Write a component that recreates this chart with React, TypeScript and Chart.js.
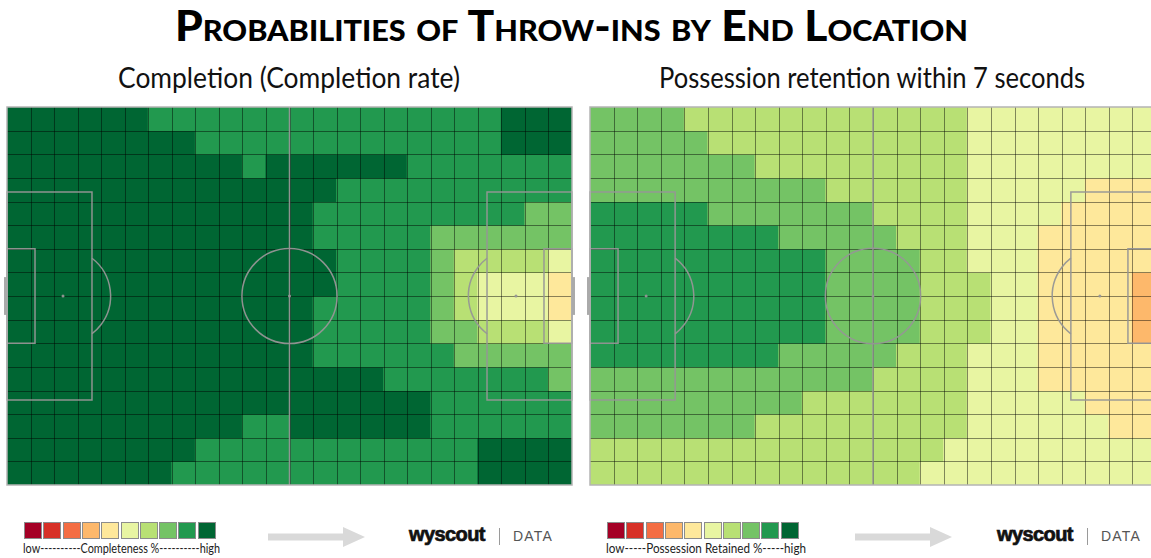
import React, { useEffect, useLayoutEffect, useRef } from "react";
import { Chart, registerables } from "chart.js";

Chart.register(...registerables);

// ---------- data ----------
const TITLE = "Probabilities of Throw-ins by End Location";
const LEFT_SUBTITLE = "Completion (Completion rate)";
const RIGHT_SUBTITLE = "Possession retention within 7 seconds";
const LEFT_LEGEND_LABEL = "low----------Completeness %----------high";
const RIGHT_LEGEND_LABEL = "low-----Possession Retained %-----high";

const COLUMN_LABELS = [
  "1", "2", "3", "4", "5", "6", "7", "8", "9", "10", "11", "12",
  "13", "14", "15", "16", "17", "18", "19", "20", "21", "22", "23", "24",
];

// colour class per cell (1 = low ... 10 = high), 16 rows x 24 columns
const COMPLETION_ROWS: number[][] = [
  [10, 10, 10, 10, 10, 10, 9, 9, 9, 9, 9, 9, 9, 9, 9, 9, 9, 9, 9, 9, 9, 10, 10, 10],
  [10, 10, 10, 10, 10, 10, 10, 10, 9, 9, 9, 9, 9, 9, 9, 9, 9, 9, 9, 9, 9, 10, 10, 10],
  [10, 10, 10, 10, 10, 10, 10, 10, 10, 10, 9, 10, 10, 10, 10, 10, 10, 9, 9, 9, 9, 9, 9, 9],
  [10, 10, 10, 10, 10, 10, 10, 10, 10, 10, 10, 10, 10, 10, 9, 9, 9, 9, 9, 9, 9, 9, 9, 9],
  [10, 10, 10, 10, 10, 10, 10, 10, 10, 10, 10, 10, 10, 9, 9, 9, 9, 9, 9, 9, 9, 9, 8, 8],
  [10, 10, 10, 10, 10, 10, 10, 10, 10, 10, 10, 10, 10, 9, 9, 9, 9, 9, 8, 8, 8, 8, 8, 8],
  [10, 10, 10, 10, 10, 10, 10, 10, 10, 10, 10, 10, 10, 10, 9, 9, 9, 9, 8, 7, 7, 7, 7, 6],
  [10, 10, 10, 10, 10, 10, 10, 10, 10, 10, 10, 10, 10, 10, 9, 9, 9, 9, 8, 7, 6, 6, 6, 5],
  [10, 10, 10, 10, 10, 10, 10, 10, 10, 10, 10, 10, 10, 9, 9, 9, 9, 9, 8, 7, 6, 6, 6, 5],
  [10, 10, 10, 10, 10, 10, 10, 10, 10, 10, 10, 10, 10, 9, 9, 9, 9, 9, 8, 8, 7, 7, 7, 6],
  [10, 10, 10, 10, 10, 10, 10, 10, 10, 10, 10, 10, 10, 9, 9, 9, 9, 9, 9, 8, 8, 8, 8, 8],
  [10, 10, 10, 10, 10, 10, 10, 10, 10, 10, 10, 10, 10, 10, 10, 10, 9, 9, 9, 9, 9, 9, 9, 8],
  [10, 10, 10, 10, 10, 10, 10, 10, 10, 10, 10, 10, 10, 10, 10, 10, 10, 10, 9, 9, 9, 9, 9, 9],
  [10, 10, 10, 10, 10, 10, 10, 10, 10, 10, 9, 9, 10, 10, 10, 10, 10, 10, 9, 9, 9, 9, 9, 9],
  [10, 10, 10, 10, 10, 10, 10, 10, 9, 9, 9, 9, 9, 9, 9, 9, 9, 9, 9, 9, 10, 10, 10, 10],
  [10, 10, 10, 10, 10, 10, 10, 9, 9, 9, 9, 9, 9, 9, 9, 9, 9, 9, 9, 9, 10, 10, 10, 10],
];

const RETENTION_ROWS: number[][] = [
  [8, 8, 8, 8, 7, 7, 7, 7, 7, 7, 7, 7, 7, 7, 7, 7, 6, 6, 6, 6, 6, 6, 6, 6],
  [8, 8, 8, 8, 8, 7, 7, 7, 7, 7, 7, 7, 7, 7, 7, 7, 6, 6, 6, 6, 6, 6, 6, 6],
  [8, 8, 8, 8, 8, 8, 8, 7, 7, 7, 7, 7, 7, 7, 7, 7, 6, 6, 6, 6, 6, 6, 6, 6],
  [8, 8, 8, 8, 8, 8, 8, 8, 8, 8, 7, 7, 7, 7, 7, 7, 6, 6, 6, 6, 6, 5, 5, 5],
  [9, 9, 9, 9, 9, 8, 8, 8, 8, 8, 8, 8, 7, 7, 7, 7, 6, 6, 6, 6, 5, 5, 5, 5],
  [9, 9, 9, 9, 9, 9, 9, 9, 8, 8, 8, 8, 8, 7, 7, 7, 6, 6, 6, 5, 5, 5, 5, 5],
  [9, 9, 9, 9, 9, 9, 9, 9, 9, 9, 8, 8, 8, 8, 7, 7, 6, 6, 6, 5, 5, 5, 5, 5],
  [9, 9, 9, 9, 9, 9, 9, 9, 9, 9, 8, 8, 8, 8, 7, 7, 7, 6, 6, 5, 5, 5, 5, 4],
  [9, 9, 9, 9, 9, 9, 9, 9, 9, 9, 8, 8, 8, 8, 7, 7, 7, 6, 6, 5, 5, 5, 5, 4],
  [9, 9, 9, 9, 9, 9, 9, 9, 9, 9, 8, 8, 8, 8, 7, 7, 7, 6, 6, 5, 5, 5, 5, 4],
  [9, 9, 9, 9, 9, 9, 9, 9, 8, 8, 8, 8, 8, 7, 7, 7, 6, 6, 6, 5, 5, 5, 5, 5],
  [8, 8, 8, 8, 8, 8, 8, 8, 8, 8, 8, 8, 7, 7, 7, 7, 6, 6, 6, 5, 5, 5, 5, 5],
  [8, 8, 8, 8, 8, 8, 8, 8, 8, 7, 7, 7, 7, 7, 7, 7, 6, 6, 6, 6, 6, 5, 5, 5],
  [8, 8, 8, 8, 8, 8, 8, 7, 7, 7, 7, 7, 7, 7, 7, 7, 6, 6, 6, 6, 6, 6, 5, 5],
  [7, 7, 7, 7, 7, 7, 7, 7, 7, 7, 7, 7, 7, 7, 7, 6, 6, 6, 6, 6, 6, 6, 6, 6],
  [7, 7, 7, 7, 7, 7, 7, 7, 7, 7, 7, 7, 7, 7, 6, 6, 6, 6, 6, 6, 6, 6, 6, 6],
];

const PALETTE = [
  "#a50026", "#d73027", "#f46d43", "#fdb86b", "#fee89b",
  "#e8f5a2", "#b8e074", "#74c365", "#22994f", "#006633",
];

// pitch geometry in grid units (24 x 16)
const PITCH_LENGTH = 24;
const PITCH_WIDTH = 16;
const BOX_DEPTH = 3.61;
const BOX_HALF = 4.4;
const SIX_DEPTH = 1.19;
const SIX_HALF = 2.0;
const CIRCLE_R = 2.02;
const SPOT_DIST = 2.38;
const GOAL_HALF = 0.8;

// ---------- drawing ----------
const pitchPlugin = {
  id: "pitch",
  afterDatasetsDraw(chart: any) {
    const { ctx, chartArea } = chart;
    const xs = chart.scales.xp;
    const ys = chart.scales.y;
    const X = (v: number) => xs.getPixelForValue(v);
    const Y = (v: number) => ys.getPixelForValue(v);
    const mid = PITCH_WIDTH / 2;
    ctx.save();

    // cell grid
    ctx.strokeStyle = "rgba(0,0,0,0.45)";
    ctx.lineWidth = 1;
    ctx.beginPath();
    for (let c = 1; c < PITCH_LENGTH; c++) {
      const px = Math.round(X(c)) + 0.5;
      ctx.moveTo(px, chartArea.top);
      ctx.lineTo(px, chartArea.bottom);
    }
    for (let r = 1; r < PITCH_WIDTH; r++) {
      const py = Math.round(Y(r)) + 0.5;
      ctx.moveTo(chartArea.left, py);
      ctx.lineTo(chartArea.right, py);
    }
    ctx.stroke();

    ctx.strokeStyle = "rgba(150,150,150,0.95)";
    ctx.lineWidth = 1.5;
    const line = (x1: number, y1: number, x2: number, y2: number) => {
      ctx.beginPath();
      ctx.moveTo(X(x1), Y(y1));
      ctx.lineTo(X(x2), Y(y2));
      ctx.stroke();
    };
    const box = (x1: number, x2: number, half: number) => {
      ctx.beginPath();
      ctx.rect(X(x1), Y(mid - half), X(x2) - X(x1), Y(mid + half) - Y(mid - half));
      ctx.stroke();
    };
    line(PITCH_LENGTH / 2, 0, PITCH_LENGTH / 2, PITCH_WIDTH);
    const r = X(CIRCLE_R) - X(0);
    ctx.beginPath();
    ctx.arc(X(PITCH_LENGTH / 2), Y(mid), r, 0, Math.PI * 2);
    ctx.stroke();
    box(0, BOX_DEPTH, BOX_HALF);
    box(PITCH_LENGTH - BOX_DEPTH, PITCH_LENGTH, BOX_HALF);
    box(0, SIX_DEPTH, SIX_HALF);
    box(PITCH_LENGTH - SIX_DEPTH, PITCH_LENGTH, SIX_HALF);
    const th = Math.acos((BOX_DEPTH - SPOT_DIST) / CIRCLE_R);
    ctx.beginPath();
    ctx.arc(X(SPOT_DIST), Y(mid), r, -th, th);
    ctx.stroke();
    ctx.beginPath();
    ctx.arc(X(PITCH_LENGTH - SPOT_DIST), Y(mid), r, Math.PI - th, Math.PI + th);
    ctx.stroke();
    ctx.fillStyle = "rgba(150,150,150,0.95)";
    [SPOT_DIST, PITCH_LENGTH / 2, PITCH_LENGTH - SPOT_DIST].forEach((sx) => {
      ctx.beginPath();
      ctx.arc(X(sx), Y(mid), 1.5, 0, Math.PI * 2);
      ctx.fill();
    });
    // outer frame
    ctx.strokeStyle = "#b4b4b4";
    ctx.lineWidth = 1.5;
    ctx.strokeRect(chartArea.left, chartArea.top, chartArea.right - chartArea.left, chartArea.bottom - chartArea.top);
    // goals
    ctx.fillStyle = "#aaaaaa";
    const gy1 = Y(mid - GOAL_HALF);
    const gy2 = Y(mid + GOAL_HALF);
    ctx.fillRect(X(0) - 3, gy1, 3, gy2 - gy1);
    ctx.fillRect(X(PITCH_LENGTH), gy1, 3, gy2 - gy1);
    ctx.restore();
  },
};

function Heatmap({ rows, left, top, width, height }: { rows: number[][]; left: number; top: number; width: number; height: number }) {
  const ref = useRef<HTMLCanvasElement>(null);
  useEffect(() => {
    const canvas = ref.current;
    if (!canvas) return;
    const datasets = rows.map((row, r) => ({
      label: `row ${r + 1}`,
      data: row.map(() => [r, r + 1]),
      backgroundColor: row.map((lv) => PALETTE[lv - 1]),
      borderWidth: 0,
      borderSkipped: false,
      grouped: false,
      barPercentage: 1,
      categoryPercentage: 1,
      inflateAmount: 0.5,
    }));
    const chart = new Chart(canvas, {
      type: "bar",
      data: { labels: COLUMN_LABELS, datasets: datasets as any },
      options: {
        animation: false,
        responsive: false,
        maintainAspectRatio: false,
        layout: { padding: 4 },
        events: [],
        plugins: { legend: { display: false }, tooltip: { enabled: false }, title: { display: false } },
        scales: {
          x: { display: false, offset: true },
          xp: { type: "linear", axis: "x", display: false, offset: false, grace: 0, min: 0, max: PITCH_LENGTH },
          y: { type: "linear", display: false, min: 0, max: PITCH_WIDTH, reverse: true },
        } as any,
      },
      plugins: [pitchPlugin],
    });
    return () => chart.destroy();
  }, [rows]);
  return (
    <canvas
      ref={ref}
      width={width}
      height={height}
      style={{ position: "absolute", left, top, width, height }}
    />
  );
}

function FitText({ text, left, top, width, style }: { text: string; left: number; top: number; width: number; style: React.CSSProperties }) {
  const ref = useRef<HTMLSpanElement>(null);
  useLayoutEffect(() => {
    const el = ref.current;
    if (!el) return;
    el.style.transform = "none";
    const w = el.getBoundingClientRect().width;
    if (w > 0) el.style.transform = `scaleX(${width / w})`;
  }, [text, width]);
  return (
    <span
      ref={ref}
      style={{
        position: "absolute",
        left,
        top,
        whiteSpace: "nowrap",
        transformOrigin: "left top",
        lineHeight: 1,
        ...style,
      }}
    >
      {text}
    </span>
  );
}

function Legend({ x, label, labelWidth }: { x: number; label: string; labelWidth: number }) {
  return (
    <>
      {PALETTE.map((c, i) => (
        <div
          key={i}
          style={{
            position: "absolute",
            left: x + i * 19.3,
            top: 522,
            width: 16,
            height: 15,
            background: c,
            border: "1px solid #8c8c8c",
          }}
        />
      ))}
      <FitText
        text={label}
        left={x - 1}
        top={542}
        width={labelWidth}
        style={{ fontFamily: "Lato, 'Open Sans', sans-serif", fontSize: 13, color: "#222" }}
      />
    </>
  );
}

function Arrow({ x }: { x: number }) {
  return (
    <svg style={{ position: "absolute", left: x, top: 526, overflow: "visible" }} width={98} height={22}>
      <polygon points="0,7.5 75,7.5 75,1 97,11 75,21 75,14.5 0,14.5" fill="#d9d9d9" />
    </svg>
  );
}

function Brand({ x }: { x: number }) {
  return (
    <>
      <span
        style={{
          position: "absolute",
          left: x,
          top: 524,
          fontFamily: "'Liberation Sans', Arial, sans-serif",
          fontWeight: 700,
          fontSize: 20,
          lineHeight: 1,
          letterSpacing: -0.6,
          color: "#111",
          WebkitTextStroke: "0.7px #111",
        }}
      >
        wyscout
      </span>
      <div style={{ position: "absolute", left: x + 90, top: 528, width: 1, height: 17, background: "#9a9a9a" }} />
      <span
        style={{
          position: "absolute",
          left: x + 104,
          top: 529,
          fontFamily: "'Liberation Sans', Arial, sans-serif",
          fontSize: 14,
          lineHeight: 1,
          letterSpacing: 1.2,
          color: "#555",
        }}
      >
        DATA
      </span>
    </>
  );
}

export default function App() {
  return (
    <div style={{ position: "fixed", left: 0, top: 0, width: 1151, height: 558, overflow: "hidden", background: "#fff" }}>
      <FitText
        text={TITLE}
        left={175}
        top={4}
        width={793}
        style={{ fontFamily: "Lato, sans-serif", fontWeight: 900, fontSize: 42, fontVariant: "small-caps", color: "#000" }}
      />
      <FitText
        text={LEFT_SUBTITLE}
        left={118}
        top={62}
        width={342}
        style={{ fontFamily: "Lato, sans-serif", fontWeight: 400, fontSize: 29, color: "#111" }}
      />
      <FitText
        text={RIGHT_SUBTITLE}
        left={659}
        top={62}
        width={426}
        style={{ fontFamily: "Lato, sans-serif", fontWeight: 400, fontSize: 29, color: "#111" }}
      />
      <Heatmap rows={COMPLETION_ROWS} left={3} top={103} width={573} height={386} />
      <Heatmap rows={RETENTION_ROWS} left={586} top={103} width={574} height={386} />
      <Legend x={24} label={LEFT_LEGEND_LABEL} labelWidth={197} />
      <Arrow x={268} />
      <Brand x={409} />
      <Legend x={607} label={RIGHT_LEGEND_LABEL} labelWidth={200} />
      <Arrow x={855} />
      <Brand x={997} />
    </div>
  );
}
